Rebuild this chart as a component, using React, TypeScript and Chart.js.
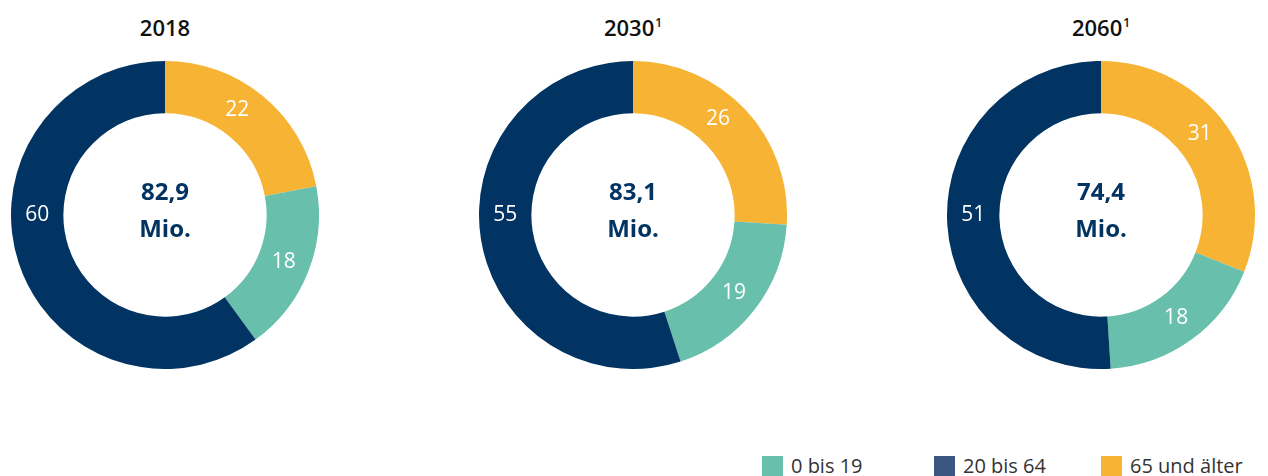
import React, { useEffect, useRef } from "react";
import { Chart, registerables } from "chart.js";

Chart.register(...registerables);

const categories = ["65 und älter", "0 bis 19", "20 bis 64"];
const years = ["2018", "2030", "2060"];
const yearNotes = ["", "1", "1"];
const totals = ["82,9", "83,1", "74,4"];
const values2018 = [22, 18, 60];
const values2030 = [26, 19, 55];
const values2060 = [31, 18, 51];
const seriesValues = [values2018, values2030, values2060];
const legendLabels = ["0 bis 19", "20 bis 64", "65 und älter"];

const ORANGE = "#f7b334";
const TEAL = "#67bfac";
const NAVY = "#013462";
const segColors = [ORANGE, TEAL, NAVY];
const legendColors = [TEAL, "#3a5783", ORANGE];
const FONT = "'Open Sans', 'DejaVu Sans', sans-serif";

const centersX = [165, 633, 1101];
const CY = 215;
const R = 154;

// Labels sit on the ring's mid radius; a segment that covers the 9 o'clock
// direction gets its label there, the first segment leans slightly to 12 o'clock.
const labelPlugin = {
  id: "arcLabels",
  afterDatasetsDraw(chart: any) {
    const ctx = chart.ctx;
    const meta = chart.getDatasetMeta(0);
    const data = chart.data.datasets[0].data;
    ctx.save();
    ctx.fillStyle = "#ffffff";
    ctx.font = `400 21px ${FONT}`;
    ctx.textAlign = "center";
    ctx.textBaseline = "middle";
    meta.data.forEach((arc: any, i: number) => {
      const { x, y, startAngle, endAngle, innerRadius, outerRadius } = arc.getProps(
        ["x", "y", "startAngle", "endAngle", "innerRadius", "outerRadius"],
        true
      );
      const left = Math.PI; // 9 o'clock in canvas angle
      let a = (startAngle + endAngle) / 2;
      if (startAngle <= left && endAngle >= left) a = left;
      else if (i === 0) a -= 0.09;
      const r = (innerRadius + outerRadius) / 2;
      ctx.fillText(String(data[i]), x + Math.cos(a) * r, y + Math.sin(a) * r);
    });
    ctx.restore();
  },
};

function Donut({ values }: { values: number[] }) {
  const ref = useRef<HTMLCanvasElement | null>(null);
  useEffect(() => {
    if (!ref.current) return;
    const chart = new Chart(ref.current, {
      type: "doughnut",
      data: {
        labels: categories,
        datasets: [
          {
            data: values,
            backgroundColor: segColors,
            borderWidth: 0,
          },
        ],
      },
      options: {
        responsive: false,
        animation: false,
        cutout: "66%",
        layout: { padding: 0 },
        plugins: {
          legend: { display: false },
          tooltip: { enabled: false },
        },
      },
      plugins: [labelPlugin],
    });
    return () => chart.destroy();
  }, [values]);
  return <canvas ref={ref} width={2 * R} height={2 * R} />;
}

export default function App() {
  return (
    <div
      style={{
        position: "absolute",
        left: 0,
        top: 0,
        width: 1268,
        height: 476,
        background: "#fff",
        fontFamily: FONT,
        overflow: "hidden",
      }}
    >
      {years.map((y, i) => (
        <React.Fragment key={y}>
          <div
            style={{
              position: "absolute",
              left: centersX[i] - 100,
              width: 200,
              top: 12,
              textAlign: "center",
              fontSize: 22,
              fontWeight: 600,
              lineHeight: "30px",
              color: "#111",
            }}
          >
            {y}
            {yearNotes[i] && (
              <sup style={{ fontSize: 12, fontWeight: 600, verticalAlign: "top", lineHeight: "22px", marginLeft: 1 }}>
                {yearNotes[i]}
              </sup>
            )}
          </div>
          <div
            style={{
              position: "absolute",
              left: centersX[i] - R,
              top: CY - R,
              width: 2 * R,
              height: 2 * R,
            }}
          >
            <Donut values={seriesValues[i]} />
          </div>
          <div
            style={{
              position: "absolute",
              left: centersX[i] - 80,
              width: 160,
              top: 172,
              textAlign: "center",
              fontSize: 24,
              fontWeight: 700,
              lineHeight: "37px",
              color: NAVY,
            }}
          >
            {totals[i]}
            <br />
            Mio.
          </div>
        </React.Fragment>
      ))}
      {legendLabels.map((l, i) => {
        const xs = [762, 934, 1101];
        return (
          <div
            key={l}
            style={{
              position: "absolute",
              left: xs[i],
              top: 455,
              height: 22,
              display: "flex",
              alignItems: "center",
              whiteSpace: "nowrap",
            }}
          >
            <span
              style={{
                display: "inline-block",
                width: 21,
                height: 21,
                background: legendColors[i],
                marginRight: 8,
              }}
            />
            <span style={{ fontSize: 20, color: "#333", lineHeight: "22px" }}>{l}</span>
          </div>
        );
      })}
    </div>
  );
}
